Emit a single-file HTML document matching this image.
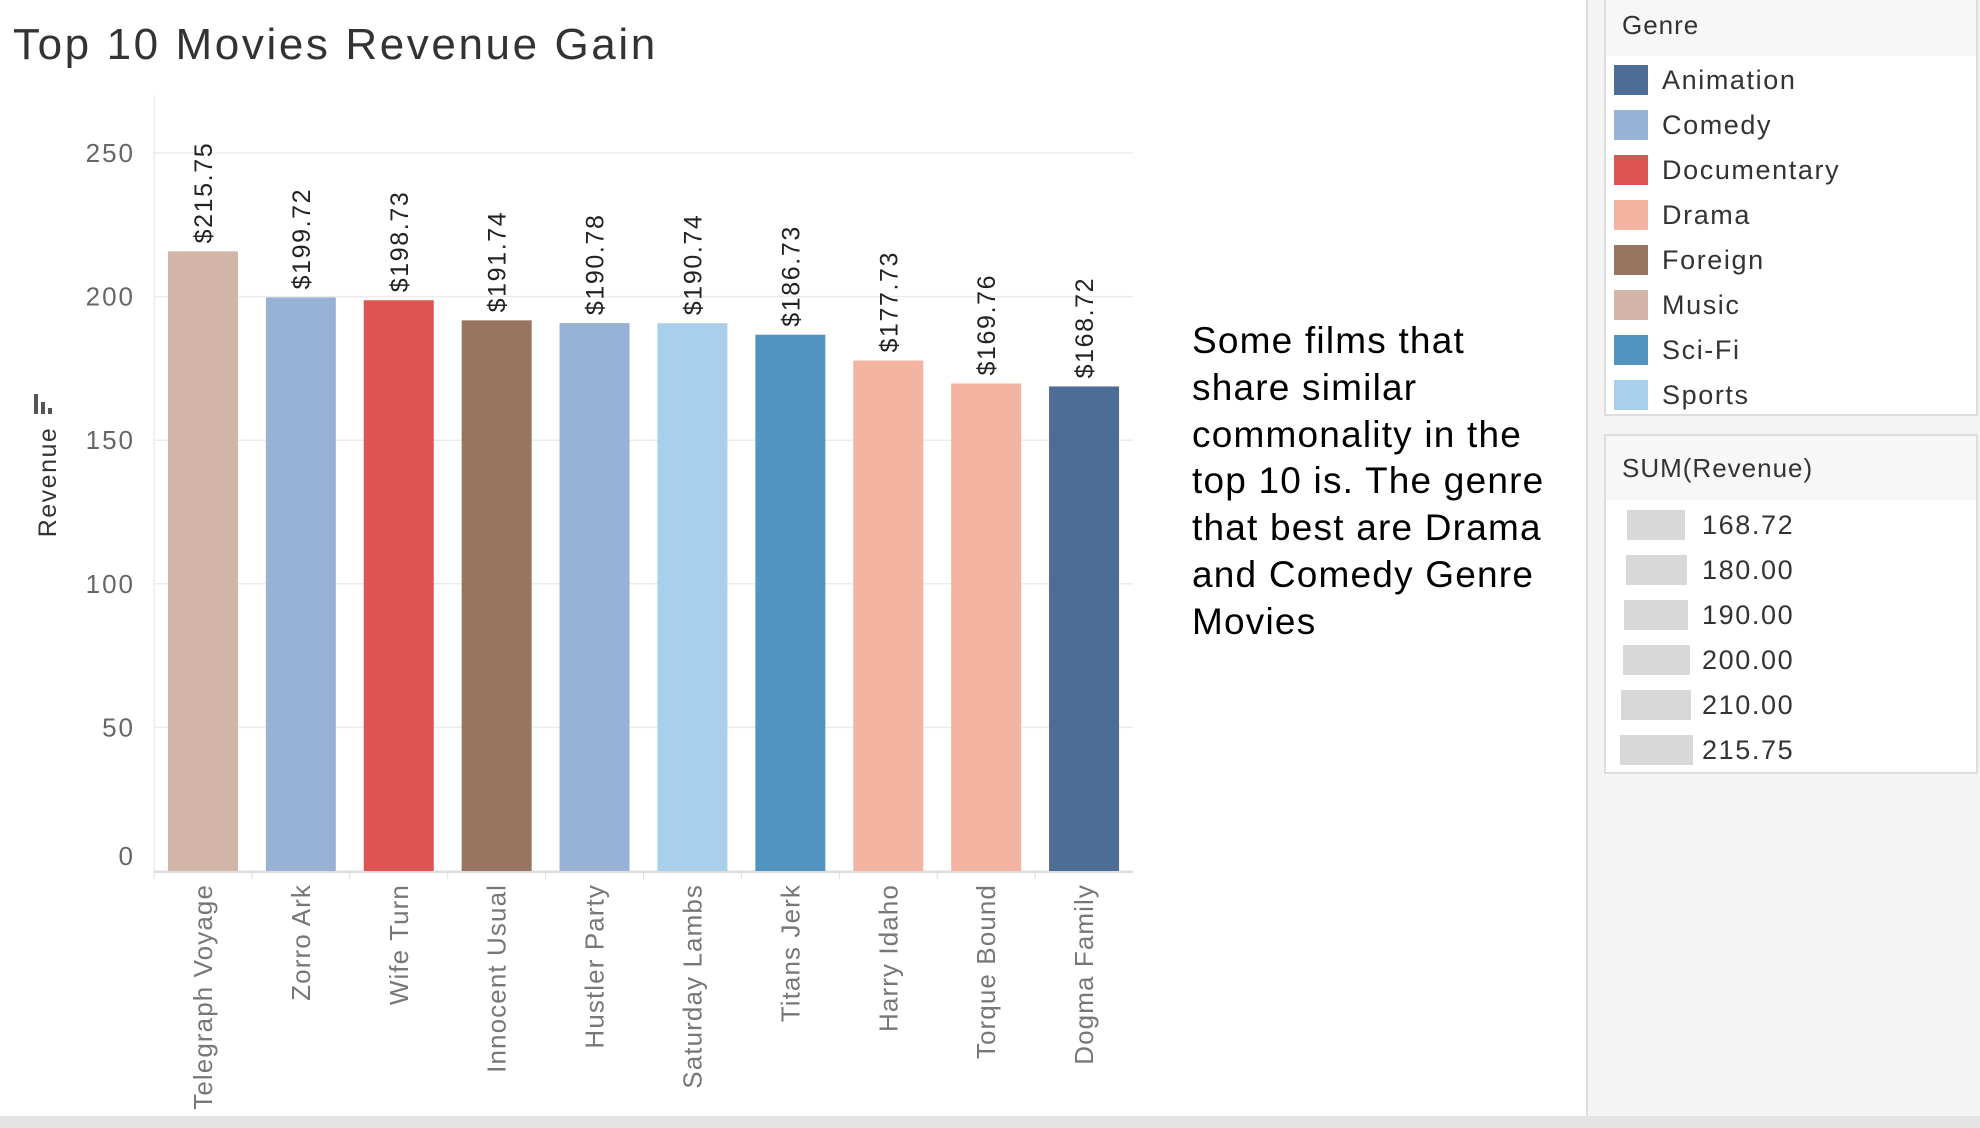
<!DOCTYPE html>
<html><head><meta charset="utf-8"><style>
body{margin:0;width:1980px;height:1128px;background:#fff;position:relative;overflow:hidden;font-family:"Liberation Sans",sans-serif;}
.abs{position:absolute;}
</style></head><body>
<div class="abs" style="left:13px;top:20px;font-size:44px;color:#333;letter-spacing:2.6px;">Top 10 Movies Revenue Gain</div>
<svg class="abs" style="left:0;top:0" width="1580" height="1128" id="chart"></svg>
<div class="abs" style="left:1192px;top:318px;font-size:37px;line-height:46.8px;color:#000;width:400px;letter-spacing:1.2px;">Some films that<br>share similar<br>commonality in the<br>top 10 is. The genre<br>that best are Drama<br>and Comedy Genre<br>Movies</div>
<div class="abs" style="left:1586px;top:0;width:394px;height:1116px;background:#f4f4f4;border-left:2px solid #ddd;"></div>
<div class="abs" style="left:0;top:1116px;width:1980px;height:12px;background:#e4e4e4;"></div>
<div class="abs" style="left:1604px;top:-2px;width:374px;height:418px;background:#fff;border:2px solid #ddd;box-sizing:border-box;">
 <div style="height:56px;background:#f7f7f7;font-size:26px;color:#333;padding-left:16px;line-height:50px;letter-spacing:1px;">Genre</div>
 <div id="genreItems"></div>
</div>
<div class="abs" style="left:1604px;top:434px;width:374px;height:340px;background:#fff;border:2px solid #ddd;box-sizing:border-box;">
 <div style="height:64px;background:#f7f7f7;font-size:26px;color:#333;padding-left:16px;line-height:64px;letter-spacing:1px;">SUM(Revenue)</div>
 <div id="sizeItems"></div>
</div>
<script>
const categories=["Telegraph Voyage","Zorro Ark","Wife Turn","Innocent Usual","Hustler Party","Saturday Lambs","Titans Jerk","Harry Idaho","Torque Bound","Dogma Family"];
const revenue=[215.75,199.72,198.73,191.74,190.78,190.74,186.73,177.73,169.76,168.72];
const genres=["Music","Comedy","Documentary","Foreign","Comedy","Sports","Sci-Fi","Drama","Drama","Animation"];
const yTicks=[0,50,100,150,200,250];
const genreNames=["Animation","Comedy","Documentary","Drama","Foreign","Music","Sci-Fi","Sports"];
const genreColors=["#4e6d96","#98b2d6","#dd5452","#f3b5a1","#977561","#d3b5a7","#5194c0","#a9d0ea"];
const sizeLabels=["168.72","180.00","190.00","200.00","210.00","215.75"];
const NS="http://www.w3.org/2000/svg";
const svg=document.getElementById('chart');
const x0=154,x1=1133,y0=871,yTop=153,vmax=250;
const y=v=>y0-(v/vmax)*(y0-yTop);
const bw=(x1-x0)/categories.length;
const xc=i=>x0+bw*(i+0.5);
function mk(t,a){const e=document.createElementNS(NS,t);for(const k in a)e.setAttribute(k,a[k]);svg.appendChild(e);return e;}
let ax=mk('line',{x1:x0,x2:x0,y1:95,y2:y0,stroke:'#eee','stroke-width':1.5});

yTicks.forEach(t=>{
 const g=mk('line',{x1:x0,x2:x1,y1:y(t),y2:y(t),stroke:'#ebebeb','stroke-width':1.5});
 
 const l=mk('text',{x:135,y:y(t)+(t===0?-6:9),'text-anchor':'end','font-size':26,fill:'#666','letter-spacing':2});
 l.textContent=t;
});
let b0=mk('line',{x1:x0,x2:x1,y1:y0+1,y2:y0+1,stroke:'#ddd','stroke-width':2});

let yt=mk('text',{transform:'translate(56,482) rotate(-90)','text-anchor':'middle','font-size':25,fill:'#333','letter-spacing':1.5});
yt.textContent='Revenue';
[[34,20],[41,12],[48,6]].forEach(r=>{const e=mk('rect',{x:r[0],y:414-r[1],width:4,height:r[1],fill:'#555'});});
categories.forEach((c,i)=>{
 const col=genreColors[genreNames.indexOf(genres[i])];
 const r=mk('rect',{x:xc(i)-35,y:y(revenue[i]),width:70,height:y0-y(revenue[i]),fill:col});
 
 const v=mk('text',{transform:`translate(${xc(i)+9},${y(revenue[i])-8}) rotate(-90)`,'font-size':25,fill:'#222','letter-spacing':1.6});
 v.textContent='$'+revenue[i].toFixed(2);
 const s=mk('line',{x1:x0+bw*i,x2:x0+bw*i,y1:y0,y2:y0+8,stroke:'#ddd'});
 
 const t=mk('text',{transform:`translate(${xc(i)+9},884) rotate(-90)`,'text-anchor':'end','font-size':26,fill:'#777','letter-spacing':1.1});
 t.textContent=c;
});
const gi=document.getElementById('genreItems');
genreNames.forEach((g,i)=>{
 const d=document.createElement('div');
 
 
 d.style.cssText='position:absolute;left:0;top:'+(80+45*i-15)+'px;height:30px;';
 d.innerHTML='<span style="position:absolute;left:8px;top:0;width:34px;height:30px;background:'+genreColors[i]+'"></span><span style="position:absolute;left:56px;top:0;line-height:30px;font-size:27px;color:#333;white-space:nowrap;letter-spacing:1.6px">'+g+'</span>';
 gi.appendChild(d);
});
const si=document.getElementById('sizeItems');
sizeLabels.forEach((s,i)=>{
 const w=58+i*3;
 const d=document.createElement('div');
 
 
 d.style.cssText='position:absolute;left:0;top:'+(89+45*i-15)+'px;height:30px;';
 d.innerHTML='<span style="position:absolute;left:'+(50-w/2)+'px;top:0;width:'+w+'px;height:30px;background:#d8d8d8"></span><span style="position:absolute;left:96px;top:0;line-height:30px;font-size:27px;color:#333;letter-spacing:1.6px">'+s+'</span>';
 si.appendChild(d);
});
</script>
</body></html>
